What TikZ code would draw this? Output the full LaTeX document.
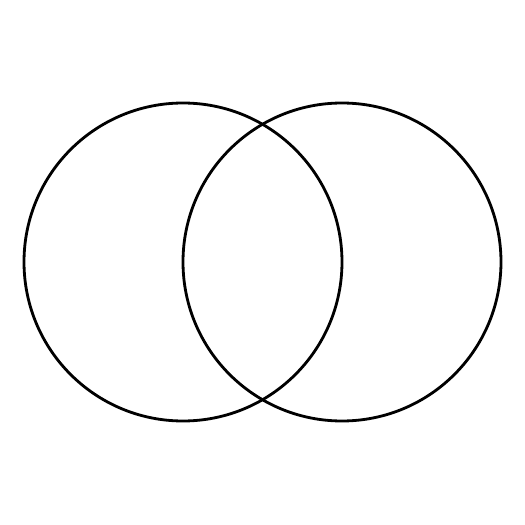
\documentclass[tikz,border=0pt]{standalone}
\usepackage{tikz}
\usetikzlibrary{positioning}

\begin{document}
\begin{tikzpicture}[
  setc/.style={circle, draw=black, minimum size=6.36cm, inner sep=0pt, line width=1.6pt}
]
\useasboundingbox (0,0) rectangle (10.50,10.50);
\node[setc] (s0) at (3.66,5.26) {};
\node[setc] (s1) at (6.84,5.26) {};
\end{tikzpicture}
\end{document}
